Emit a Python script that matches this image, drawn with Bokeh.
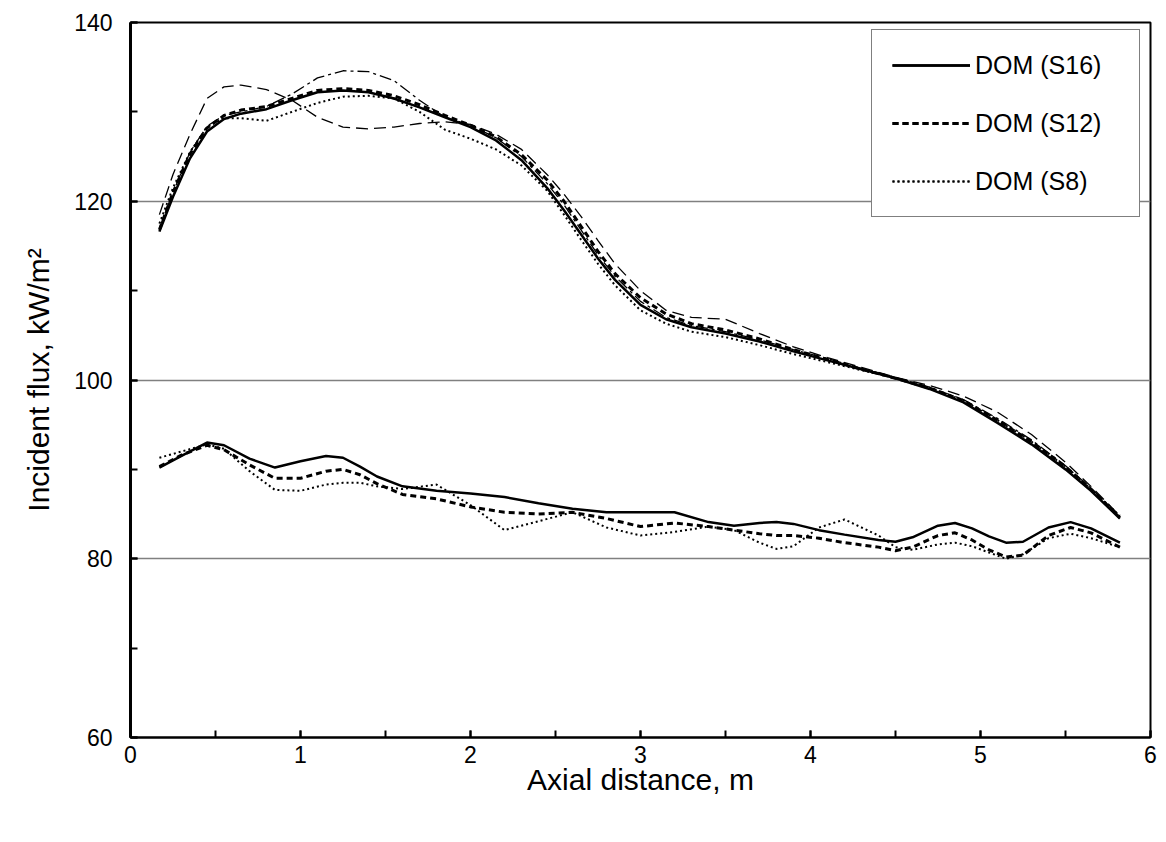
from bokeh.plotting import figure
from bokeh.models import Range1d, Legend, LegendItem, SingleIntervalTicker, FixedTicker
from bokeh.embed import file_html
from bokeh.resources import INLINE

# ---------------- data ----------------
x_top = [0.17, 0.25, 0.35, 0.45, 0.55, 0.65, 0.8, 0.95, 1.1, 1.25, 1.4, 1.55, 1.7, 1.85,
         2.0, 2.15, 2.3, 2.45, 2.55, 2.65, 2.75, 2.85, 3.0, 3.15, 3.3, 3.5, 3.7, 3.9,
         4.1, 4.3, 4.5, 4.7, 4.9, 5.1, 5.3, 5.5, 5.65, 5.82]
top_s16 = [116.6, 120.5, 124.8, 127.8, 129.2, 129.8, 130.3, 131.3, 132.2, 132.4, 132.2, 131.5,
           130.5, 129.4, 128.3, 126.8, 124.6, 121.5, 119.0, 116.3, 113.6, 111.2, 108.4, 106.8,
           105.9, 105.2, 104.3, 103.2, 102.2, 101.2, 100.2, 99.0, 97.5, 95.2, 92.8, 90.0, 87.6, 84.5]
top_s12 = [116.8, 121.0, 125.3, 128.2, 129.6, 130.2, 130.6, 131.5, 132.4, 132.6, 132.4, 131.8,
           130.8, 129.6, 128.5, 127.2, 125.2, 122.4, 120.0, 117.2, 114.4, 111.9, 109.2, 107.4,
           106.3, 105.6, 104.6, 103.4, 102.3, 101.2, 100.2, 99.1, 97.7, 95.5, 93.1, 90.3, 87.8, 84.6]
top_s8 = [117.5, 121.5, 125.5, 128.3, 129.3, 129.3, 129.0, 130.0, 131.0, 131.7, 131.8, 131.5,
          130.0, 128.0, 127.0, 125.8, 124.0, 121.2, 118.5, 115.7, 113.0, 110.6, 107.8, 106.3,
          105.4, 104.8, 103.9, 102.9, 102.0, 101.1, 100.2, 99.1, 97.7, 95.5, 93.1, 90.3, 87.8, 84.8]
top_ref_a = [118.5, 123.0, 127.5, 131.5, 132.8, 133.0, 132.5, 131.3, 129.4, 128.3, 128.1, 128.3,
             128.7, 128.9, 128.6, 127.5, 125.8, 123.0, 120.8, 118.3, 115.6, 113.0, 110.0, 107.8,
             107.0, 106.8, 105.2, 103.7, 102.5, 101.4, 100.3, 99.4, 98.2, 96.4, 93.9, 90.8, 88.1, 84.8]
top_ref_b = [117.0, 121.0, 125.5, 128.4, 129.6, 130.0, 130.6, 132.0, 133.8, 134.6, 134.5, 133.5,
             131.3, 129.4, 128.5, 127.1, 125.0, 122.0, 119.6, 116.8, 114.0, 111.6, 108.8, 107.0,
             106.1, 105.4, 104.5, 103.4, 102.4, 101.3, 100.3, 99.2, 97.8, 95.7, 93.3, 90.4, 87.9, 84.7]

x_low = [0.17, 0.3, 0.45, 0.55, 0.7, 0.85, 1.0, 1.15, 1.25, 1.35, 1.45, 1.6, 1.8, 2.0, 2.2,
         2.4, 2.6, 2.8, 3.0, 3.2, 3.4, 3.55, 3.7, 3.8, 3.9, 4.05, 4.2, 4.4, 4.5, 4.6, 4.75,
         4.85, 4.95, 5.05, 5.15, 5.25, 5.4, 5.53, 5.65, 5.82]
low_s16 = [90.2, 91.5, 93.0, 92.7, 91.2, 90.2, 90.9, 91.5, 91.3, 90.3, 89.2, 88.1, 87.6, 87.3,
           86.9, 86.2, 85.6, 85.2, 85.2, 85.2, 84.1, 83.7, 84.0, 84.1, 83.9, 83.2, 82.7, 82.1,
           81.9, 82.4, 83.7, 84.0, 83.4, 82.5, 81.8, 81.9, 83.5, 84.1, 83.4, 81.8]
low_s12 = [90.3, 91.6, 92.7, 92.2, 90.5, 89.0, 89.0, 89.8, 90.0, 89.4, 88.4, 87.2, 86.7, 85.8,
           85.2, 85.0, 85.2, 84.5, 83.6, 84.0, 83.6, 83.2, 82.8, 82.6, 82.6, 82.3, 81.8, 81.3,
           80.9, 81.3, 82.6, 82.9, 82.1, 81.0, 80.2, 80.4, 82.6, 83.5, 82.9, 81.3]
low_s8 = [91.3, 92.0, 92.8, 92.3, 89.8, 87.7, 87.6, 88.3, 88.5, 88.5, 88.1, 87.8, 88.3, 86.0,
          83.2, 84.2, 85.2, 83.5, 82.6, 83.0, 83.6, 83.2, 81.8, 81.1, 81.4, 83.5, 84.4, 82.6,
          81.3, 81.0, 81.6, 81.8, 81.4, 80.7, 80.0, 80.5, 82.3, 82.8, 82.3, 81.3]

legend_labels = ["DOM (S16)", "DOM (S12)", "DOM (S8)"]
y_ticks = [60, 80, 100, 120, 140]

FONT = "Liberation Sans"

p = figure(width=1160, height=808, output_backend="svg", toolbar_location=None,
           x_range=Range1d(0, 6), y_range=Range1d(60, 140),
           min_border_left=130, min_border_right=10, min_border_top=22, min_border_bottom=71)
p.background_fill_color = "white"
p.border_fill_color = "white"
p.outline_line_color = "black"
p.outline_line_width = 2

# grid
p.xgrid.grid_line_color = None
p.ygrid.ticker = FixedTicker(ticks=y_ticks)
p.ygrid.grid_line_color = "#808080"
p.ygrid.grid_line_width = 1.5

# axes
p.xaxis.ticker = SingleIntervalTicker(interval=1, num_minor_ticks=2)
p.yaxis.ticker = SingleIntervalTicker(interval=20, num_minor_ticks=2)
for ax in (p.xaxis, p.yaxis):
    ax.axis_line_color = "black"
    ax.major_tick_in = 7
    ax.major_tick_out = 0
    ax.minor_tick_in = 7
    ax.minor_tick_out = 0
    ax.major_tick_line_width = 2
    ax.minor_tick_line_width = 2
    ax.major_label_text_font = FONT
    ax.major_label_text_font_size = "23px"
    ax.major_label_text_color = "black"
    ax.axis_label_text_font = FONT
    ax.axis_label_text_font_size = "30px"
    ax.axis_label_text_font_style = "normal"
    ax.axis_label_text_color = "black"
p.yaxis.axis_line_width = 3
p.xaxis.axis_line_width = 2
p.yaxis.major_label_standoff = 18
p.xaxis.major_label_standoff = 8
p.xaxis.axis_label = "Axial distance, m"
p.yaxis.axis_label = "Incident flux, kW/m\u00b2"
p.xaxis.axis_label_standoff = -3
p.yaxis.axis_label_standoff = 16

# reference thin curves
p.line(x_top, top_ref_a, line_color="black", line_width=1.3, line_dash="12 6")
p.line(x_top, top_ref_b, line_color="black", line_width=1.3, line_dash="12 4 3 4")

# DOM curves
r16 = p.line(x_top, top_s16, line_color="black", line_width=2.5)
r12 = p.line(x_top, top_s12, line_color="black", line_width=3, line_dash="6 4")
r8 = p.line(x_top, top_s8, line_color="black", line_width=2, line_dash="2 3")
l16 = p.line(x_low, low_s16, line_color="black", line_width=2.5)
l12 = p.line(x_low, low_s12, line_color="black", line_width=3, line_dash="6 4")
l8 = p.line(x_low, low_s8, line_color="black", line_width=2, line_dash="2 3")

legend = Legend(items=[LegendItem(label=legend_labels[0], renderers=[r16, l16]),
                       LegendItem(label=legend_labels[1], renderers=[r12, l12]),
                       LegendItem(label=legend_labels[2], renderers=[r8, l8])],
                location=(741, 520))
legend.label_text_font = FONT
legend.label_text_font_size = "25px"
legend.label_text_color = "black"
legend.glyph_width = 78
legend.glyph_height = 30
legend.label_height = 30
legend.label_width = 144
legend.label_standoff = 5
legend.spacing = 28
legend.padding = 20
legend.margin = 0
legend.border_line_color = "black"
legend.border_line_width = 1
legend.background_fill_color = "white"
legend.background_fill_alpha = 1.0
p.add_layout(legend, "center")

open("out.html", "w").write(file_html(p, INLINE))
